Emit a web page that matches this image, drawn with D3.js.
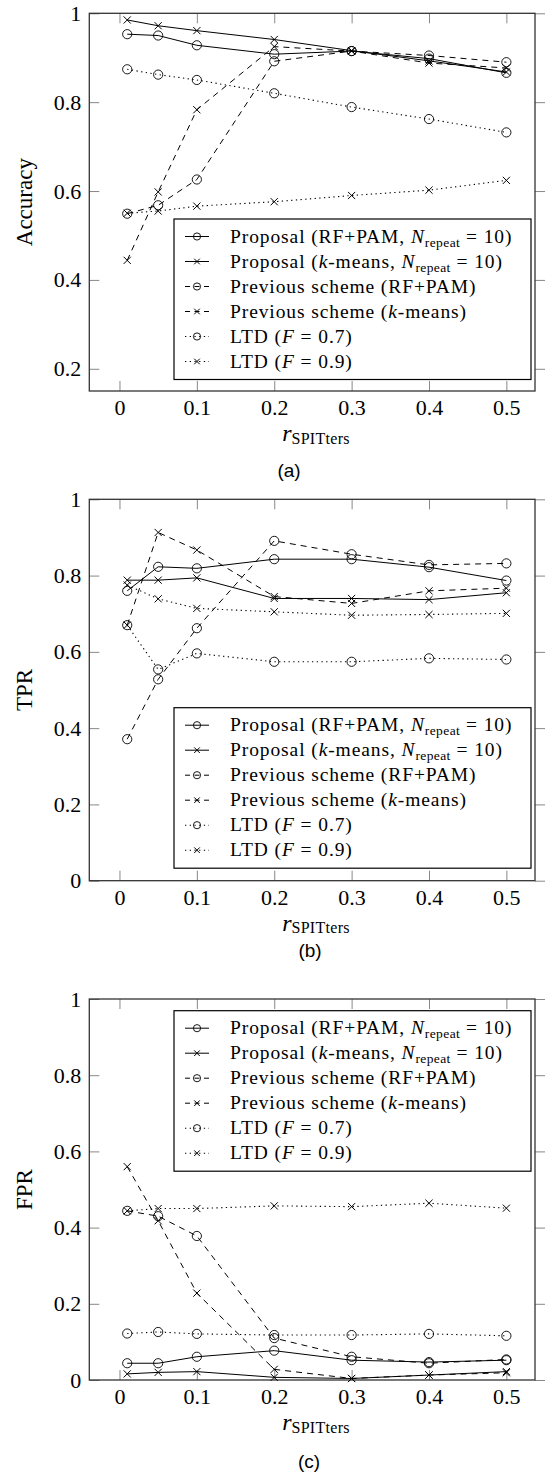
<!DOCTYPE html>
<html><head><meta charset="utf-8">
<script src="https://cdn.jsdelivr.net/npm/d3@7"></script>
<style>body{margin:0;background:#fff}svg{display:block}</style>
</head><body>
<script>
// ---------- data ----------
const xValues = [0.01, 0.05, 0.1, 0.2, 0.3, 0.4, 0.5];
const xTickValues = [0, 0.1, 0.2, 0.3, 0.4, 0.5];
const accuracyTicks = [0.2, 0.4, 0.6, 0.8, 1];
const rateTicks = [0, 0.2, 0.4, 0.6, 0.8, 1];

const accPropRF = [0.953, 0.950, 0.928, 0.908, 0.915, 0.898, 0.866];
const accPropKM = [0.985, 0.972, 0.961, 0.941, 0.916, 0.893, 0.868];
const accPrevRF = [0.549, 0.568, 0.626, 0.892, 0.915, 0.905, 0.890];
const accPrevKM = [0.444, 0.598, 0.783, 0.925, 0.915, 0.888, 0.877];
const accLTD07  = [0.874, 0.862, 0.850, 0.820, 0.789, 0.762, 0.732];
const accLTD09  = [0.550, 0.555, 0.566, 0.576, 0.590, 0.602, 0.624];

const tprPropRF = [0.760, 0.823, 0.819, 0.843, 0.843, 0.822, 0.787];
const tprPropKM = [0.788, 0.788, 0.794, 0.740, 0.740, 0.737, 0.755];
const tprPrevRF = [0.371, 0.528, 0.662, 0.891, 0.856, 0.828, 0.832];
const tprPrevKM = [0.670, 0.913, 0.867, 0.745, 0.727, 0.760, 0.767];
const tprLTD07  = [0.670, 0.554, 0.596, 0.574, 0.574, 0.583, 0.580];
const tprLTD09  = [0.775, 0.739, 0.714, 0.705, 0.696, 0.698, 0.701];

const fprPropRF = [0.044, 0.044, 0.061, 0.077, 0.052, 0.047, 0.052];
const fprPropKM = [0.016, 0.020, 0.022, 0.007, 0.004, 0.013, 0.022];
const fprPrevRF = [0.444, 0.430, 0.378, 0.110, 0.061, 0.044, 0.054];
const fprPrevKM = [0.560, 0.418, 0.228, 0.028, 0.004, 0.013, 0.019];
const fprLTD07  = [0.122, 0.126, 0.121, 0.118, 0.118, 0.121, 0.116];
const fprLTD09  = [0.444, 0.450, 0.450, 0.457, 0.455, 0.464, 0.451];

const seriesLabels = [
  [{t:"Proposal (RF+PAM, "},{t:"N",it:true},{t:"repeat",sub:true},{t:" = 10)"}],
  [{t:"Proposal ("},{t:"k",it:true},{t:"-means, "},{t:"N",it:true},{t:"repeat",sub:true},{t:" = 10)"}],
  [{t:"Previous scheme (RF+PAM)"}],
  [{t:"Previous scheme ("},{t:"k",it:true},{t:"-means)"}],
  [{t:"LTD ("},{t:"F",it:true},{t:" = 0.7)"}],
  [{t:"LTD ("},{t:"F",it:true},{t:" = 0.9)"}]
];
const yAxisLabels = ["Accuracy", "TPR", "FPR"];
const captions = ["(a)", "(b)", "(c)"];

// ---------- styles ----------
const SERIF = "'Liberation Serif','Times New Roman',serif";
const SANS = "'Liberation Sans',Arial,sans-serif";
const styles = [
  {dash:null, mark:"o"}, {dash:null, mark:"x"},
  {dash:"6,5", mark:"o"}, {dash:"6,5", mark:"x"},
  {dash:"1.3,3.4", mark:"o"}, {dash:"1.3,3.4", mark:"x"}
];
const panels = [
  {top:13.3, bottom:391, ymin:0.15, ticks:accuracyTicks, series:[accPropRF,accPropKM,accPrevRF,accPrevKM,accLTD07,accLTD09], legendTop:219, capX:289, capY:477},
  {top:499.3, bottom:880.7, ymin:0, ticks:rateTicks, series:[tprPropRF,tprPropKM,tprPrevRF,tprPrevKM,tprLTD07,tprLTD09], legendTop:707.7, capX:310, capY:957},
  {top:999, bottom:1380, ymin:0, ticks:rateTicks, series:[fprPropRF,fprPropKM,fprPrevRF,fprPrevKM,fprLTD07,fprLTD09], legendTop:1010.7, capX:309, capY:1468}
];

const svg = d3.select("body").append("svg").attr("width",545).attr("height",1474);
const x = d3.scaleLinear().domain([-0.039, 0.537]).range([89.3, 535]);
const tickColor = "#888";
const fmt = d3.format("~g");

function drawMark(g, type, cx, cy, r) {
  if (type === "o") {
    g.append("circle").attr("cx",cx).attr("cy",cy).attr("r",r)
      .attr("fill","none").attr("stroke","#000").attr("stroke-width",0.9);
  } else {
    const s = r*0.78;
    g.append("path").attr("d",`M${cx-s},${cy-s}L${cx+s},${cy+s}M${cx-s},${cy+s}L${cx+s},${cy-s}`)
      .attr("fill","none").attr("stroke","#000").attr("stroke-width",1);
  }
}

panels.forEach((p, pi) => {
  const g = svg.append("g");
  const y = d3.scaleLinear().domain([p.ymin, 1]).range([p.bottom, p.top]);

  const style = sel => {
    sel.attr("font-family",SERIF);
    sel.select(".domain").remove();
    sel.selectAll("line").attr("stroke",tickColor).attr("stroke-width",1);
    sel.selectAll("text").attr("font-family",SERIF).attr("font-size",22).attr("fill","#000");
  };
  g.append("g").attr("transform",`translate(0,${p.bottom})`)
    .call(d3.axisBottom(x).tickValues(xTickValues).tickSize(-10).tickPadding(8.5).tickFormat(fmt)).call(style);
  g.append("g").attr("transform",`translate(0,${p.top})`)
    .call(d3.axisTop(x).tickValues(xTickValues).tickSize(-10).tickFormat("")).call(style);
  g.append("g").attr("transform",`translate(${x.range()[0]},0)`)
    .call(d3.axisLeft(y).tickValues(p.ticks).tickSize(-10).tickPadding(8).tickFormat(fmt)).call(style);
  g.append("g").attr("transform",`translate(${x.range()[1]},0)`)
    .call(d3.axisRight(y).tickValues(p.ticks).tickSize(10).tickFormat("")).call(style);

  g.append("rect").attr("x",x.range()[0]).attr("y",p.top)
    .attr("width",x.range()[1]-x.range()[0]).attr("height",p.bottom-p.top)
    .attr("fill","none").attr("stroke","#333").attr("stroke-width",1.3);

  const line = d3.line().x((d,i)=>x(xValues[i])).y(d=>y(d));
  p.series.forEach((vals, si) => {
    const st = styles[si];
    g.append("path").attr("d",line(vals)).attr("fill","none").attr("stroke","#000")
      .attr("stroke-width",si>=4 ? 1.1 : 1).attr("stroke-dasharray",st.dash);
    vals.forEach((v,i)=> drawMark(g, st.mark, x(xValues[i]), y(v), 4.6));
  });

  // y label
  const cy = (p.top+p.bottom)/2;
  g.append("text").attr("transform",`translate(32,${cy}) rotate(-90)`)
    .attr("text-anchor","middle").attr("font-family",SERIF).attr("font-size",23).text(yAxisLabels[pi]);

  // x label
  const xl = g.append("text").attr("x",316).attr("y",p.bottom+50).attr("text-anchor","middle")
    .attr("font-family",SERIF);
  xl.append("tspan").attr("font-style","italic").attr("font-size",24).text("r");
  xl.append("tspan").attr("font-size",16).attr("dy",2.6).attr("letter-spacing",0.3).text("SPITters");

  // caption
  g.append("text").attr("x",p.capX).attr("y",p.capY).attr("text-anchor","middle")
    .attr("font-family",SANS).attr("font-size",19).text(captions[pi]);

  // legend
  const lg = g.append("g");
  const lx = 174, lw = 357, lh = 160.5;
  lg.append("rect").attr("x",lx).attr("y",p.legendTop).attr("width",lw).attr("height",lh)
    .attr("fill","#fff").attr("stroke","#000").attr("stroke-width",1.2);
  seriesLabels.forEach((segs, si) => {
    const ry = p.legendTop + 17.5 + si*25;
    const st = styles[si];
    lg.append("path").attr("d",`M185,${ry}L209,${ry}`).attr("stroke","#000")
      .attr("stroke-width",si>=4 ? 1.1 : 1).attr("stroke-dasharray", st.dash ? (si<4 ? "5,4.5" : st.dash) : null);
    drawMark(lg, st.mark, 197, ry, 3.6);
    const t = lg.append("text").attr("x",230).attr("y",ry+6).attr("font-family",SERIF)
      .attr("font-size",19.5).attr("letter-spacing",0.9);
    let shifted = false;
    segs.forEach(s => {
      const ts = t.append("tspan").text(s.t);
      if (s.it) ts.attr("font-style","italic");
      if (s.sub) { ts.attr("font-size",13.5).attr("dy",4).attr("letter-spacing",0.4); shifted = true; }
      else if (shifted) { ts.attr("dy",-4); shifted = false; }
    });
  });
});
</script>
</body></html>
